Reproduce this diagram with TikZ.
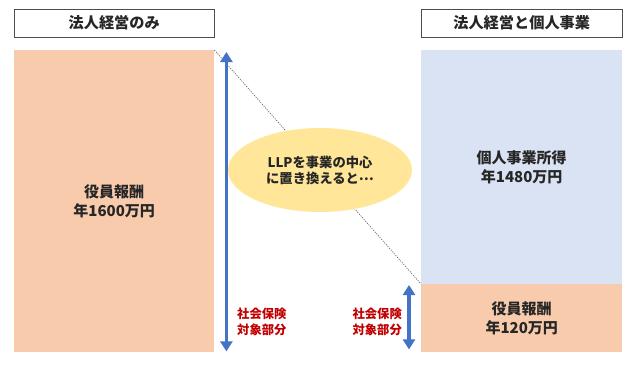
\documentclass[tikz,border=0pt]{standalone}
\usepackage{fontspec}
\setmainfont{Noto Sans CJK JP}
\usetikzlibrary{arrows.meta,positioning,calc,shapes.geometric}
\definecolor{Salmon}{HTML}{F8CBAD}
\definecolor{PaleBlue}{HTML}{DAE3F3}
\definecolor{Butter}{HTML}{FFE699}
\definecolor{ArrowBlue}{HTML}{4472C4}
\definecolor{LabelRed}{HTML}{C00000}
\definecolor{Ink}{HTML}{262626}

\tikzset{
  headbox/.style={draw=gray!60!black,minimum width=200pt,minimum height=28pt,inner sep=0pt,
    anchor=north west,text=Ink,font=\bfseries\fontsize{15.2}{17}\selectfont},
  barbox/.style={minimum width=200pt,inner sep=0pt,anchor=north west,align=center,text=Ink,
    font=\bfseries\fontsize{15}{19}\selectfont},
  scope label/.style={text=LabelRed,align=left,inner sep=0pt,font=\bfseries\fontsize{12.3}{16}\selectfont},
  span/.style={<->,ArrowBlue,line width=3.5pt}
}

\begin{document}
\begin{tikzpicture}[x=1pt,y=-1pt,>={Triangle[width=12pt,length=10pt]}]
  \useasboundingbox (0,0) rectangle (640,368);
  % headers
  \node[headbox] (corp head) at (14,9) {法人経営のみ};
  \node[headbox,minimum width=201pt] (both head) at (421,9) {法人経営と個人事業};
  % columns
  \node[barbox,fill=Salmon,minimum height=302pt] (corp) at (14,50) {役員報酬\\年1600万円};
  \node[barbox,fill=PaleBlue,minimum width=201pt,minimum height=234pt] (biz) at (421,50) {個人事業所得\\年1480万円};
  \node[barbox,fill=Salmon,minimum width=201pt,minimum height=68pt] (wage) at (421,284) {役員報酬\\年120万円};
  \draw[gray!70!black,line width=0.6pt,dash pattern=on 1.2pt off 1.2pt] (corp.north east) -- (wage.north west);
  % bubble
  \node[ellipse,fill=Butter,minimum width=184pt,minimum height=84pt,align=center,text=Ink,
    font=\bfseries\fontsize{13.3}{16}\selectfont] (llp) at (320,170) {LLPを事業の中心\\に置き換えると\raisebox{0.4ex}{…}};
  % insured spans
  \coordinate (l top) at ($(corp.north east)+(12,2)$);
  \coordinate (l bot) at ($(corp.south east)+(12,-1)$);
  \coordinate (r top) at ($(wage.north west)+(-12,1)$);
  \coordinate (r bot) at ($(wage.south west)+(-12,-3)$);
  \draw[span] (l top) -- (l bot);
  \draw[span] (r top) -- (r bot);
  \node[scope label,anchor=west] (l label) at (237,322) {社会保険\\対象部分};
  \node[scope label,anchor=east] (r label) at (402,322) {社会保険\\対象部分};
\end{tikzpicture}
\end{document}
